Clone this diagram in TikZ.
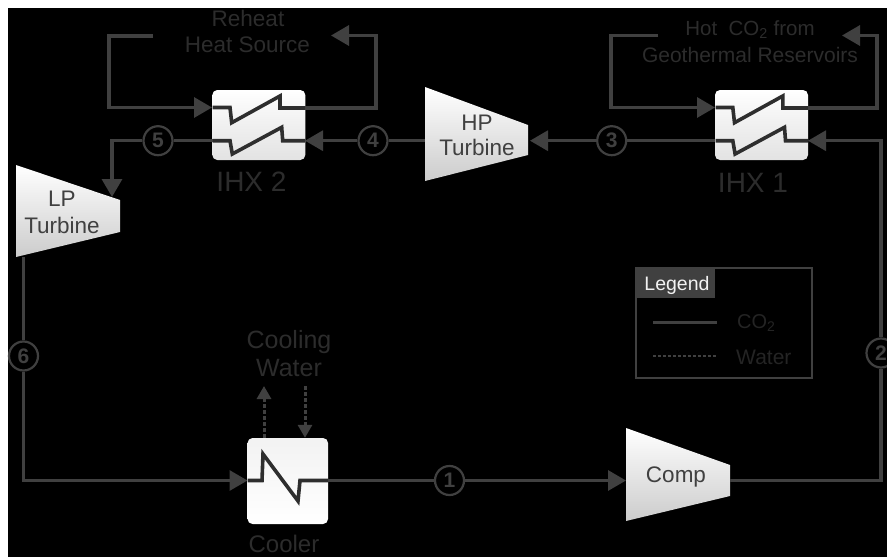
\documentclass[tikz,border=0pt]{standalone}
\usepackage{fontspec}
\setmainfont{Liberation Sans}
\usetikzlibrary{arrows.meta,calc}
\definecolor{ln}{HTML}{404040}
\definecolor{dimtxt}{HTML}{2C2C2C}
\definecolor{legtxt}{HTML}{242424}
\newcommand{\fs}[1]{\fontsize{#1}{#1}\selectfont}
\tikzset{
  x=1pt,y=-1pt,
  flow/.style={draw=ln,line width=3.2pt,line join=miter},
  flowa/.style={flow,-{Triangle[length=18pt,width=20pt]}},
  water/.style={draw=ln,line width=3pt,dash pattern=on 3.5pt off 2.5pt,-{Triangle[length=13pt,width=14pt]}},
  coil/.style={draw=black!82,line width=3.6pt,line join=miter},
  hxbox/.style={rectangle,rounded corners=5pt,minimum width=93pt,minimum height=70pt,inner sep=0pt,
     top color=white,bottom color=black!11,middle color=black!6},
  coolbox/.style={rectangle,rounded corners=5pt,minimum width=80.5pt,minimum height=86pt,inner sep=0pt,
     top color=black!5,bottom color=white},
  mach/.style={top color=white,bottom color=black!20},
  num/.style={circle,draw=ln,line width=2.2pt,fill=black,text=ln,minimum size=29pt,inner sep=0pt,font=\fs{21}\bfseries},
  label/.style={text=dimtxt,inner sep=0pt,align=center,font=\fs{22.5}},
  mlabel/.style={text=ln,inner sep=0pt,align=center,font=\fs{22.5}},
  legtext/.style={text=legtxt,inner sep=0pt,anchor=west,font=\fs{20}},
}
\begin{document}
\begin{tikzpicture}
\useasboundingbox (0,0) rectangle (887,557);
\fill[white] (0,0) rectangle (887,557);
\fill[black] (8,8) rectangle (887,557);

% heat exchangers
\node[hxbox] (ihxb) at (258.8,125) {};
\node[hxbox] (ihxa) at (761.5,125) {};
\node[coolbox] (cool) at (287.8,481) {};
\foreach \h/\dx in {ihxb/0,ihxa/502.8}{
  \draw[coil] (212.7+\dx,107.5) -- (230+\dx,107.5) -- (231.7+\dx,122.7) -- (280+\dx,96) -- (280+\dx,108) -- (305+\dx,108);
  \draw[coil] (212.7+\dx,140.7) -- (230+\dx,140.7) -- (232.3+\dx,154) -- (281.7+\dx,127.3) -- (282.7+\dx,140.7) -- (305+\dx,140.7);
}
\draw[coil] (247.5,480.5) -- (262,480.5) -- (263,454) -- (298,501) -- (300,480.5) -- (328,480.5);

% turbines and compressor
\path[mach] (16,165) -- (120,200) -- (120,232) -- (16,257) -- cycle;
\path[mach] (425,87) -- (528,125) -- (528,155) -- (425,181) -- cycle;
\path[mach] (626,428) -- (730,465) -- (730,496) -- (626,521) -- cycle;
\node[mlabel] (lpa) at (62,199) {LP};
\node[mlabel] (lpb) at (62,225) {Turbine};
\node[mlabel] (hpa) at (477,123) {HP};
\node[mlabel] (hpb) at (477,147) {Turbine};
\node[mlabel] (comp) at (676,477) {Comp};

% state points
\node[num] (n1) at (449.5,480.5) {1};
\node[num] (n2) at (881,353) {2};
\node[num] (n3) at (611.7,140.7) {3};
\node[num] (n4) at (373,140.7) {4};
\node[num] (n5) at (158,140.7) {5};
\node[num] (n6) at (23.5,356) {6};

% named ports
\coordinate (lpin) at (112,197);
\coordinate (lpout) at (23.5,257);
\coordinate (hpin) at (530,140.7);
\coordinate (hpout) at (425,140.7);
\coordinate (cin) at (626,480.5);
\coordinate (cout) at (730,480.5);
\coordinate (top2) at (881,140.7);

% CO2 loop
\draw[flow] (cout) -- (n2.center |- cout) -- (n2.south);
\draw[flowa] (n2.north) -- (top2) -- (808,140.7);
\draw[flow] (715,140.7) -- (n3.east);
\draw[flowa] (n3.west) -- (hpin);
\draw[flow] (hpout) -- (n4.east);
\draw[flowa] (n4.west) -- (305,140.7);
\draw[flow] (212.7,140.7) -- (n5.east);
\draw[flowa] (n5.west) -- (lpin |- n5) -- (lpin);
\draw[flow] (lpout) -- (n6.north);
\draw[flowa] (n6.south) -- (23.5,480.5) -- (247.5,480.5);
\draw[flow] (328,480.5) -- (n1.west);
\draw[flowa] (n1.east) -- (cin);

% heat source loops
\coordinate (rhs) at (153,36);
\coordinate (rhr) at (331,35.5);
\coordinate (ghs) at (658,35.5);
\coordinate (ghr) at (842,35.5);
\draw[flowa] (rhs) -- (109,36) -- (109,107.5) -- (212,107.5);
\draw[flowa] (305,108) -- (376,108) -- (376,35.5) -- (rhr);
\draw[flowa] (ghs) -- (611,35.5) -- (611,107.5) -- (715,107.5);
\draw[flowa] (808,108) -- (877,108) -- (877,35.5) -- (ghr);

% cooling water
\coordinate (wu) at (264,386);
\coordinate (wd) at (305,386);
\draw[water] (wu |- cool.north) -- (wu);
\draw[water] (wd) -- (wd |- cool.north);

% labels
\node[label] (rha) at (248,18) {Reheat};
\node[label] (rhb) at (247.5,45) {Heat Source};
\node[label,font=\fs{20.5}] (hot) at (750,30) {Hot\ \ CO\textsubscript{2} from};
\node[label,font=\fs{21}] (geo) at (750,55) {Geothermal Reservoirs};
\node[label,font=\fs{28}] (ihxbl) at (251.5,182) {IHX 2};
\node[label,font=\fs{28}] (ihxal) at (753,183) {IHX 1};
\node[label,font=\fs{25}] (cwa) at (289,342) {Cooling};
\node[label,font=\fs{25}] (cwb) at (289,368) {Water};
\node[label,font=\fs{24}] (cooler) at (284,544) {Cooler};

% legend
\node[draw=black!75,line width=1.2pt,rectangle,inner sep=0pt,minimum width=176pt,minimum height=110pt] (legbox) at (724,323) {};
\node[fill=ln,rectangle,inner sep=0pt,minimum width=79pt,minimum height=30pt] (leghead) at (675.5,283) {};
\node[text=black!5,inner sep=0pt,font=\fs{19.5}] (legtitle) at (677,285) {Legend};
\coordinate (la) at (653,322.7);
\coordinate (lb) at (717,322.7);
\coordinate (lc) at (653,355.7);
\coordinate (ld) at (717,355.7);
\draw[draw=ln,line width=2.6pt] (la) -- (lb);
\draw[draw=ln,line width=2pt,dash pattern=on 3pt off 2pt] (lc) -- (ld);
\node[legtext] (legco) at (737,323) {CO\textsubscript{2}};
\node[legtext,font=\fs{21}] (legw) at (736,357) {Water};
\end{tikzpicture}
\end{document}
